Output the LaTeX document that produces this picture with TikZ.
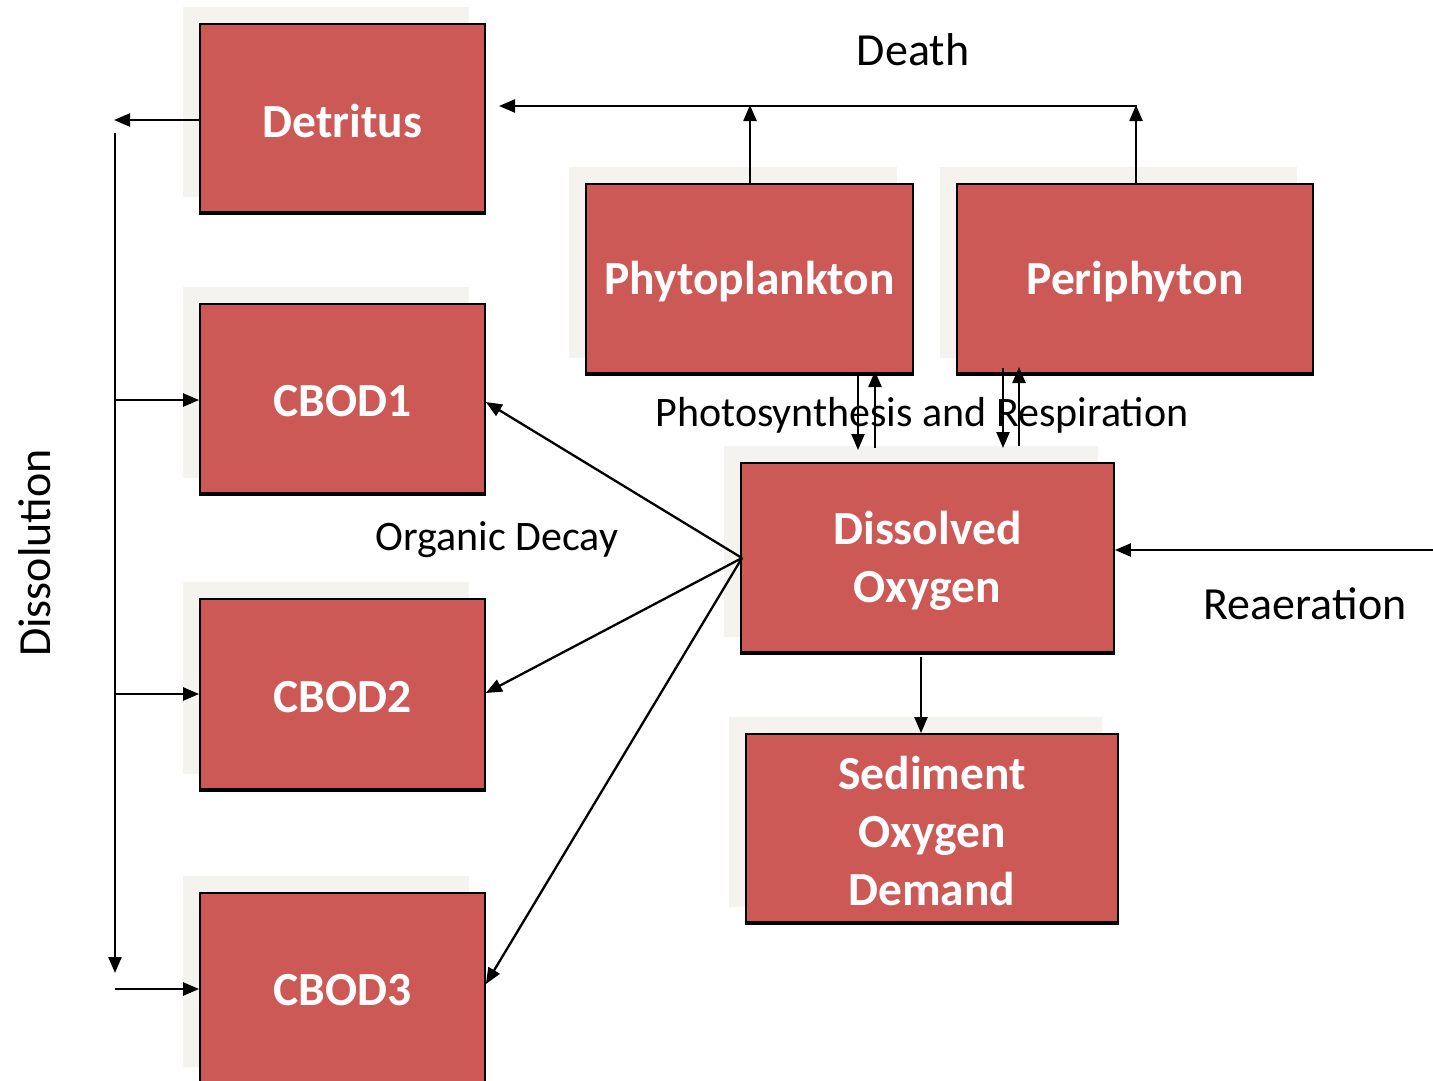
\documentclass[tikz,border=0pt]{standalone}
\usepackage{fontspec}
\setmainfont{Carlito}
\usetikzlibrary{arrows.meta}
\definecolor{boxred}{HTML}{CD5956}
\definecolor{shadecol}{HTML}{F4F3EF}
\tikzset{
  box/.style={draw=black, line width=1.8pt, fill=boxred, text=white, inner sep=0pt,
    align=center, font=\fontsize{47.5}{58}\selectfont\bfseries},
  lbl/.style={font=\fontsize{46}{52}\selectfont, inner sep=0pt},
  slbl/.style={font=\fontsize{42}{48}\selectfont, inner sep=0pt},
  conn/.style={line width=2.3pt, -{Triangle[length=16pt,width=13pt]}},
}
\newcommand{\mybox}[6]{% name, x1, y1, x2, y2, text
  \fill[shadecol] (#2-17,#3-17) rectangle (#4-16,#5-15);
  \node[box, minimum width={#4-#2}, minimum height={#5-#3}] (#1) at ({(#2+#4)/2},{(#3+#5)/2}) {};
  \node[box, draw=none, fill=none] (#1t) at ([yshift=-3pt]#1.center) {#6};
  \draw[line width=3.5pt] (#1.south west) -- (#1.south east);
}
\begin{document}
\begin{tikzpicture}[x=1pt,y=-1pt]
\useasboundingbox (0,0) rectangle (1433,1080);
\mybox{det}{200}{24}{485}{212}{Detritus}
\mybox{cb1}{200}{304}{485}{493}{CBOD1}
\mybox{cb2}{200}{599}{485}{789}{CBOD2}
\mybox{cb3}{200}{893}{485}{1082}{CBOD3}
\mybox{phy}{586}{184}{913}{373}{Phytoplankton}
\mybox{per}{957}{184}{1313}{373}{Periphyton}
\mybox{do}{741}{463}{1114}{652}{Dissolved\\Oxygen}
\mybox{sod}{746}{734}{1118}{922}{Sediment\\Oxygen\\Demand}

% dissolution
\coordinate (dl) at (114,120);
\coordinate (vtop) at (115,133);
\coordinate (vbot) at (115,973);
\coordinate (h1) at (115,400);
\coordinate (h2) at (115,694);
\coordinate (h3) at (115,989);
\draw[conn] (det.west |- 0,120) -- (dl);
\draw[conn] (vtop) -- (vbot);
\draw[conn] (h1) -- (cb1.west |- h1);
\draw[conn] (h2) -- (cb2.west |- h2);
\draw[conn] (h3) -- (cb3.west |- h3);
\node[lbl, rotate=90] (diss) at (35,553) {Dissolution};

% death
\coordinate (dphy) at (750,105);
\coordinate (dper) at (1136,105);
\coordinate (dend) at (499,106);
\draw[conn] (phy.north -| dphy) -- (dphy);
\draw[conn] (per.north -| dper) -- (dper);
\draw[conn] (1137,106) -- (dend);
\node[lbl] (death) at (913,50) {Death};

% photosynthesis and respiration
\node[slbl] (psr) at (922,415) {Photosynthesis and Respiration};
\coordinate (p1) at (858,373); \coordinate (p1e) at (858,450);
\coordinate (p2) at (875,448); \coordinate (p2e) at (875,371);
\coordinate (q1) at (1003,368); \coordinate (q1e) at (1003,448);
\coordinate (q2) at (1019,446); \coordinate (q2e) at (1019,367);
\draw[conn] (p1) -- (p1e);
\draw[conn] (p2) -- (p2e);
\draw[conn] (q1) -- (q1e);
\draw[conn] (q2) -- (q2e);

% organic decay
\coordinate (dow) at (742,558);
\draw[conn] (dow) -- (cb1.east |- 0,402);
\draw[conn] (dow) -- (cb2.east |- 0,693);
\draw[conn] (dow) -- (cb3.east |- 0,984);
\node[slbl] (od) at (497,540) {Organic Decay};

% reaeration
\coordinate (rea) at (1433,550);
\draw[conn] (rea) -- (do.east |- rea);
\node[lbl] (reat) at (1305,604) {Reaeration};

% SOD
\draw[conn] (921,657) -- (sod.north -| 921,0);
\end{tikzpicture}
\end{document}
